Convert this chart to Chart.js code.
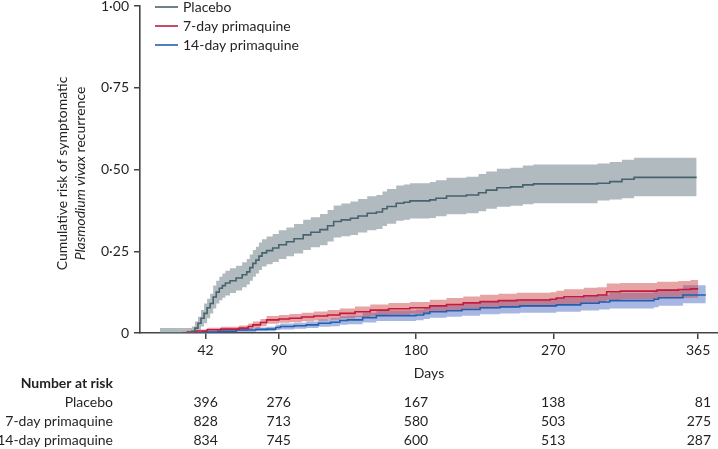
<!DOCTYPE html>
<html>
<head>
<meta charset="utf-8">
<script src="https://cdn.jsdelivr.net/npm/chart.js@4.4.1/dist/chart.umd.min.js"></script>
<style>
  html, body { margin: 0; padding: 0; background: #fff; }
  canvas { display: block; }
</style>
</head>
<body>
<canvas id="kmChart" width="718" height="449"></canvas>
<script>
// Curvas de Kaplan-Meier com IC 95%
const seriesNames = ['Placebo', '7-day primaquine', '14-day primaquine'];
const lineColors = ['#47636d', '#c21a40', '#2160b0'];
const bandColors = ['rgba(150,163,170,0.75)', 'rgba(205,65,65,0.48)', 'rgba(60,95,190,0.45)'];

const placeboDays = [12, 33, 35, 37, 39, 41, 43, 45, 47, 49, 51, 53, 55, 58, 62, 66, 69, 71, 73, 75, 77, 79, 82, 86, 90, 95, 100, 106, 111, 117, 122, 126, 131, 137, 142, 148, 154, 158, 161, 167, 172, 176, 189, 193, 200, 213, 221, 226, 233, 242, 250, 257, 299, 307, 315, 323, 364];
const placeboRisk = [0, 0.005, 0.015, 0.03, 0.045, 0.06, 0.077, 0.09, 0.11, 0.125, 0.137, 0.145, 0.153, 0.16, 0.168, 0.178, 0.187, 0.2, 0.213, 0.223, 0.235, 0.245, 0.252, 0.26, 0.27, 0.279, 0.288, 0.3, 0.308, 0.316, 0.328, 0.341, 0.346, 0.351, 0.358, 0.366, 0.37, 0.38, 0.387, 0.397, 0.4, 0.404, 0.407, 0.412, 0.419, 0.422, 0.429, 0.437, 0.444, 0.447, 0.453, 0.456, 0.458, 0.463, 0.47, 0.476, 0.476];
const placeboLower = [0, 0, 0, 0.01, 0.02, 0.03, 0.045, 0.06, 0.075, 0.09, 0.1, 0.108, 0.115, 0.122, 0.13, 0.14, 0.148, 0.16, 0.172, 0.182, 0.193, 0.203, 0.21, 0.217, 0.226, 0.235, 0.243, 0.254, 0.262, 0.268, 0.28, 0.292, 0.296, 0.3, 0.307, 0.314, 0.318, 0.327, 0.334, 0.343, 0.346, 0.35, 0.352, 0.357, 0.363, 0.366, 0.372, 0.38, 0.386, 0.389, 0.394, 0.397, 0.405, 0.408, 0.412, 0.418, 0.418];
const placeboUpper = [0.015, 0.02, 0.035, 0.05, 0.07, 0.09, 0.105, 0.12, 0.145, 0.16, 0.172, 0.182, 0.19, 0.198, 0.206, 0.216, 0.226, 0.24, 0.254, 0.264, 0.277, 0.287, 0.295, 0.303, 0.314, 0.323, 0.333, 0.346, 0.354, 0.364, 0.376, 0.39, 0.396, 0.402, 0.41, 0.418, 0.422, 0.433, 0.44, 0.451, 0.454, 0.458, 0.462, 0.467, 0.475, 0.478, 0.486, 0.494, 0.502, 0.505, 0.512, 0.515, 0.518, 0.523, 0.53, 0.536, 0.536];

const pq7Days = [26, 30, 36, 43, 52, 64, 70, 73, 78, 82, 90, 97, 105, 113, 122, 130, 140, 150, 162, 176, 189, 200, 211, 222, 234, 246, 268, 272, 277, 290, 299, 305, 314, 338, 352, 360, 365];
const pq7Risk = [0, 0.003, 0.006, 0.01, 0.012, 0.015, 0.02, 0.025, 0.032, 0.04, 0.043, 0.045, 0.049, 0.052, 0.055, 0.06, 0.065, 0.07, 0.074, 0.077, 0.083, 0.087, 0.092, 0.096, 0.099, 0.101, 0.103, 0.107, 0.111, 0.114, 0.116, 0.126, 0.128, 0.131, 0.133, 0.135, 0.135];
const pq7Lower = [0, 0, 0.001, 0.004, 0.005, 0.007, 0.011, 0.015, 0.021, 0.028, 0.031, 0.033, 0.036, 0.038, 0.041, 0.045, 0.049, 0.053, 0.056, 0.059, 0.064, 0.068, 0.072, 0.075, 0.078, 0.08, 0.081, 0.085, 0.088, 0.091, 0.093, 0.101, 0.103, 0.106, 0.107, 0.108, 0.108];
const pq7Upper = [0.004, 0.007, 0.011, 0.016, 0.019, 0.023, 0.029, 0.035, 0.043, 0.052, 0.055, 0.058, 0.062, 0.066, 0.07, 0.075, 0.081, 0.087, 0.092, 0.095, 0.102, 0.107, 0.112, 0.117, 0.12, 0.123, 0.125, 0.129, 0.134, 0.138, 0.14, 0.151, 0.153, 0.157, 0.159, 0.162, 0.162];

const pq14Days = [34, 40, 50, 62, 75, 82, 88, 91, 100, 108, 116, 124, 130, 135, 145, 154, 180, 185, 189, 200, 210, 222, 235, 248, 272, 288, 300, 307, 336, 339, 355, 370];
const pq14Risk = [0, 0.003, 0.005, 0.009, 0.011, 0.012, 0.017, 0.02, 0.022, 0.025, 0.03, 0.033, 0.038, 0.04, 0.047, 0.053, 0.055, 0.06, 0.065, 0.068, 0.072, 0.077, 0.08, 0.083, 0.086, 0.091, 0.095, 0.099, 0.103, 0.108, 0.116, 0.116];
const pq14Lower = [0, 0, 0.001, 0.003, 0.005, 0.005, 0.009, 0.011, 0.013, 0.015, 0.019, 0.021, 0.025, 0.027, 0.032, 0.037, 0.039, 0.043, 0.047, 0.05, 0.053, 0.057, 0.06, 0.062, 0.065, 0.069, 0.072, 0.075, 0.079, 0.083, 0.091, 0.091];
const pq14Upper = [0.003, 0.007, 0.01, 0.015, 0.017, 0.019, 0.025, 0.029, 0.031, 0.035, 0.041, 0.045, 0.051, 0.053, 0.062, 0.069, 0.071, 0.077, 0.083, 0.087, 0.091, 0.097, 0.1, 0.104, 0.107, 0.113, 0.118, 0.123, 0.127, 0.133, 0.146, 0.146];

const xTicks = [42, 90, 180, 270, 365];
const yTicks = [0, 0.25, 0.5, 0.75, 1];
const yTickLabels = ['0', '0·25', '0·50', '0·75', '1·00'];

// Tabela "Number at risk"
const riskTimes = [42, 90, 180, 270, 365];
const riskPlacebo = [396, 276, 167, 138, 81];
const riskPq7 = [828, 713, 580, 503, 275];
const riskPq14 = [834, 745, 600, 513, 287];

const FONT = 'Lato, "Open Sans", sans-serif';
const TEXT = '#231f20';

function pts(days, vals) {
    return days.map((d, i) => ({ x: d, y: vals[i] }));
}

function lineSet(label, days, vals, color) {
    return {
        label: label,
        data: pts(days, vals),
        borderColor: color,
        borderWidth: 1.6,
        pointRadius: 0,
        stepped: 'before',
        fill: false,
        order: 0
    };
}

function bandEdge(days, vals, fillTarget, color) {
    return {
        label: '',
        data: pts(days, vals),
        borderWidth: 0,
        borderColor: 'rgba(0,0,0,0)',
        pointRadius: 0,
        stepped: 'before',
        fill: fillTarget === null ? false : fillTarget,
        backgroundColor: color,
        order: 1
    };
}

// Textos desenhados à mão: título do eixo Y, legenda, "Days" e tabela
const decorPlugin = {
    id: 'decor',
    afterDraw(chart) {
        const ctx = chart.ctx;
        const area = chart.chartArea;
        const xs = chart.scales.x;
        ctx.save();
        ctx.fillStyle = TEXT;
        ctx.textBaseline = 'middle';

        // título do eixo Y (duas linhas, parte em itálico)
        const cy = (area.top + area.bottom) / 2 + 4;
        ctx.save();
        ctx.translate(62, cy);
        ctx.rotate(-Math.PI / 2);
        ctx.font = '14px ' + FONT;
        ctx.textAlign = 'center';
        ctx.fillText('Cumulative risk of symptomatic', 0, 0);
        ctx.font = 'italic 14px ' + FONT;
        const itPart = 'Plasmodium vivax';
        const wIt = ctx.measureText(itPart).width;
        ctx.font = '14px ' + FONT;
        const rest = ' recurrence';
        const wRest = ctx.measureText(rest).width;
        let sx = -(wIt + wRest) / 2;
        ctx.textAlign = 'left';
        ctx.font = 'italic 14px ' + FONT;
        ctx.fillText(itPart, sx, 18);
        ctx.font = '14px ' + FONT;
        ctx.fillText(rest, sx + wIt, 18);
        ctx.restore();

        // legenda
        ctx.font = '14px ' + FONT;
        ctx.textAlign = 'left';
        seriesNames.forEach((name, i) => {
            const y = 7 + i * 19;
            ctx.strokeStyle = lineColors[i];
            ctx.lineWidth = 1.6;
            ctx.beginPath();
            ctx.moveTo(155, y);
            ctx.lineTo(178, y);
            ctx.stroke();
            ctx.fillText(name, 183, y);
        });

        // título do eixo X
        ctx.textAlign = 'center';
        ctx.fillText('Days', (area.left + area.right) / 2, 373);

        // tabela de número em risco
        const labelRight = 113;
        ctx.textAlign = 'right';
        ctx.font = 'bold 14px ' + FONT;
        ctx.fillText('Number at risk', labelRight, 383);
        ctx.font = '14px ' + FONT;
        const rows = [riskPlacebo, riskPq7, riskPq14];
        rows.forEach((row, r) => {
            const y = 402 + r * 19;
            ctx.textAlign = 'right';
            ctx.fillText(seriesNames[r], labelRight, y);
            row.forEach((n, c) => {
                if (c === row.length - 1) {
                    ctx.textAlign = 'right';
                    ctx.fillText(String(n), 711, y);
                } else {
                    ctx.textAlign = 'center';
                    ctx.fillText(String(n), xs.getPixelForValue(riskTimes[c]), y);
                }
            });
        });
        ctx.restore();
    }
};

document.addEventListener('DOMContentLoaded', function() {
    const ctx = document.getElementById('kmChart');
    new Chart(ctx, {
        type: 'line',
        data: {
            datasets: [
                lineSet(seriesNames[0], placeboDays, placeboRisk, lineColors[0]),
                lineSet(seriesNames[1], pq7Days, pq7Risk, lineColors[1]),
                lineSet(seriesNames[2], pq14Days, pq14Risk, lineColors[2]),
                bandEdge(placeboDays, placeboLower, null, bandColors[0]),
                bandEdge(placeboDays, placeboUpper, 3, bandColors[0]),
                bandEdge(pq7Days, pq7Lower, null, bandColors[1]),
                bandEdge(pq7Days, pq7Upper, 5, bandColors[1]),
                bandEdge(pq14Days, pq14Lower, null, bandColors[2]),
                bandEdge(pq14Days, pq14Upper, 7, bandColors[2])
            ]
        },
        options: {
            responsive: false,
            animation: false,
            layout: { padding: { left: 0, right: 0, top: 6, bottom: 0 } },
            plugins: {
                legend: { display: false },
                tooltip: { enabled: false }
            },
            scales: {
                x: {
                    type: 'linear',
                    min: -1,
                    max: 378,
                    afterBuildTicks: function(scale) {
                        scale.ticks = xTicks.map(v => ({ value: v }));
                    },
                    afterFit: function(scale) {
                        scale.height = 116;
                        scale.paddingLeft = 0;
                        scale.paddingRight = 0;
                    },
                    ticks: {
                        autoSkip: false,
                        maxRotation: 0,
                        padding: 3,
                        color: TEXT,
                        font: { family: FONT, size: 14 },
                        callback: v => String(v)
                    },
                    grid: {
                        drawOnChartArea: false,
                        drawTicks: true,
                        tickLength: 6,
                        color: '#444',
                        lineWidth: 1.5
                    },
                    border: { display: true, color: '#444', width: 1.6 }
                },
                y: {
                    type: 'linear',
                    min: 0,
                    max: 1,
                    afterBuildTicks: function(scale) {
                        scale.ticks = yTicks.map(v => ({ value: v }));
                    },
                    afterFit: function(scale) {
                        scale.width = 140;
                        scale.paddingTop = 0;
                        scale.paddingBottom = 0;
                    },
                    ticks: {
                        padding: 5,
                        color: TEXT,
                        font: { family: FONT, size: 14 },
                        callback: function(v) {
                            const i = yTicks.indexOf(v);
                            return i >= 0 ? yTickLabels[i] : '';
                        }
                    },
                    grid: {
                        drawOnChartArea: false,
                        drawTicks: true,
                        tickLength: 6,
                        color: '#444',
                        lineWidth: 1.5
                    },
                    border: { display: true, color: '#444', width: 1.6 }
                }
            }
        },
        plugins: [decorPlugin]
    });
});
</script>
</body>
</html>
